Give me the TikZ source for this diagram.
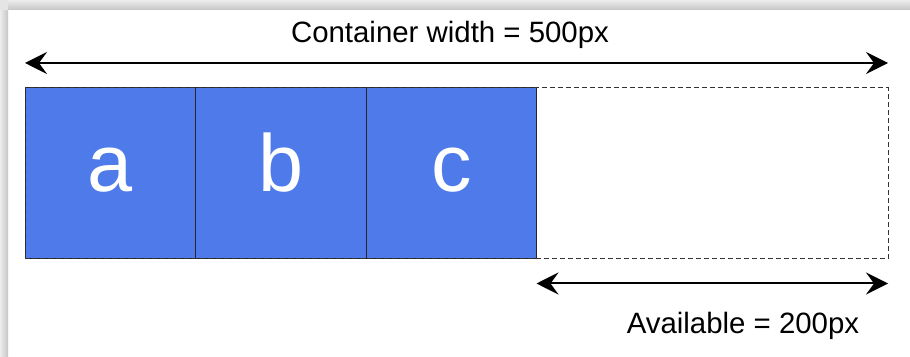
\documentclass[tikz,border=0pt]{standalone}
\usepackage{fontspec}
\setmainfont{Liberation Sans}
\usepackage{xcolor}
\usepackage{tikz}
\usetikzlibrary{positioning, arrows.meta}

\definecolor{itemblue}{HTML}{4E7AEA}
\definecolor{framegray}{HTML}{333333}

\begin{document}
\begin{tikzpicture}[x=1pt, y=1pt, >={Stealth[length=22pt, width=22pt, inset=8pt]},
    item/.style={draw=black!85, line width=1pt, fill=itemblue, minimum width=170.5, minimum height=171,
        inner sep=0, outer sep=0, text=white, text height=37, text depth=0, font=\fontsize{81}{81}\selectfont},
    frameline/.style={draw=framegray, line width=1pt, dash pattern=on 5pt off 3pt},
    dim/.style={<->, line width=2pt},
    lbl/.style={anchor=base, inner sep=0, font=\fontsize{29.4}{30}\selectfont}]
    % Khung nền và bóng đổ
    \useasboundingbox (0,0) rectangle (910,356);
    \fill[white] (0,0) rectangle (910,356);
    \shade[top color=gray!15, bottom color=gray!45] (8,346) rectangle (910,356);
    \shade[left color=gray!15, right color=gray!45] (0,0) rectangle (8,346);
    \fill[gray!20] (0,346) rectangle (8,356);

    % Container và các phần tử a, b, c
    \node[minimum width=863, minimum height=171, inner sep=0, outer sep=0] (container) at (456.5,182.5) {};
    \node[item, anchor=west] (a) at (container.west) {a};
    \node[item, right=0pt of a] (b) {b};
    \node[item, right=0pt of b] (c) {c};
    \draw[frameline] (container.south west) rectangle (container.north east);

    % Mũi tên kích thước
    \coordinate (topL) at ([yshift=25]container.north west);
    \coordinate (topR) at ([yshift=25]container.north east);
    \coordinate (botL) at ([yshift=-24.5]c.south east);
    \coordinate (botR) at (botL -| container.east);
    \draw[dim] (topL) -- (topR);
    \draw[dim] (botL) -- (botR);

    % Nhãn
    \node[lbl] (toplbl) at (450,313) {Container width = 500px};
    \node[lbl] (botlbl) at (743,23) {Available = 200px};
\end{tikzpicture}
\end{document}
